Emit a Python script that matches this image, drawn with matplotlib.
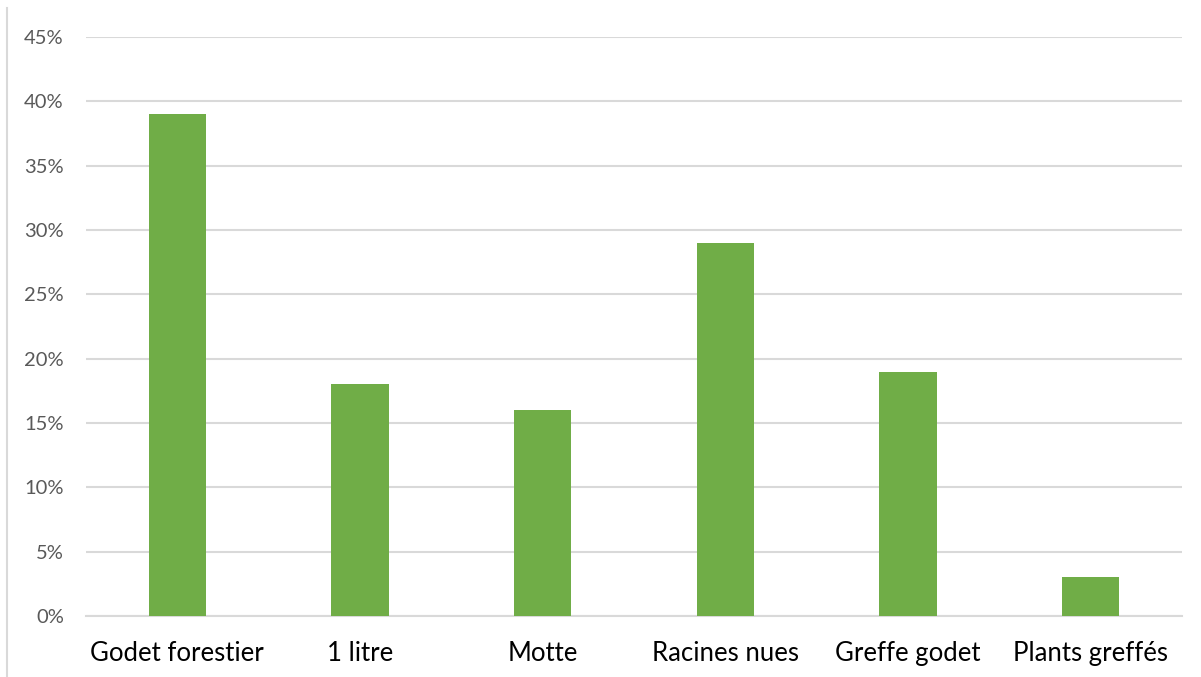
import matplotlib.pyplot as plt
from matplotlib.lines import Line2D
from matplotlib.ticker import MultipleLocator, PercentFormatter

categories = ["Godet forestier", "1 litre", "Motte", "Racines nues", "Greffe godet", "Plants greffés"]
values = [0.39, 0.18, 0.16, 0.29, 0.19, 0.03]

plt.rcParams["font.family"] = ["Lato", "DejaVu Sans"]

fig = plt.figure(figsize=(12.01, 6.77), dpi=100)
ax = fig.add_axes([86 / 1201, 1 - 616 / 677, 1096 / 1201, (616 - 37) / 677])

x = range(len(categories))
ax.bar(x, values, width=0.315, color="#70AD47", zorder=3)

ax.set_xlim(-0.5, len(categories) - 0.5)
ax.set_ylim(0, 0.45)
ax.yaxis.set_major_locator(MultipleLocator(0.05))
ax.yaxis.set_major_formatter(PercentFormatter(1.0, decimals=0))
ax.grid(axis="y", color="#D9D9D9", linewidth=1.5, zorder=0)

ax.set_xticks(list(x))
ax.set_xticklabels(categories)
ax.tick_params(axis="x", length=0, pad=18, labelsize=18.5, labelcolor="#000000")
ax.tick_params(axis="y", length=0, pad=16, labelsize=14.5, labelcolor="#595959")

for side in ["left", "right", "top"]:
    ax.spines[side].set_visible(False)
ax.spines["bottom"].set_color("#D9D9D9")
ax.spines["bottom"].set_linewidth(1.5)

# thin border line at left of the picture
fig.add_artist(Line2D([7 / 1201, 7 / 1201], [0, 1 - 8 / 677], transform=fig.transFigure,
                      color="#D9D9D9", linewidth=1.5))

fig.savefig("out.png", dpi=100)
